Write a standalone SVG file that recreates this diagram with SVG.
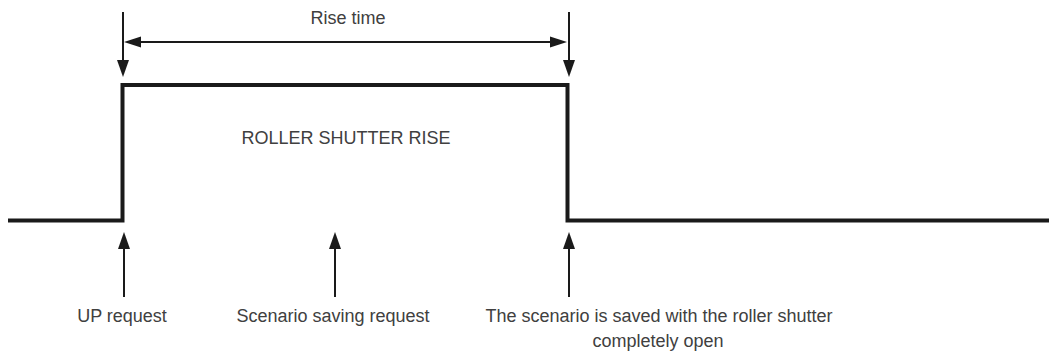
<svg xmlns="http://www.w3.org/2000/svg" width="1049" height="356" viewBox="0 0 1049 356">
<style>
text { font-family: "Liberation Sans", Arial, sans-serif; font-size: 18px; fill: #404040; text-anchor: middle; }
.wave { fill: none; stroke: #1a1a1a; stroke-width: 4; stroke-linejoin: miter; }
.arr { fill: none; stroke: #1a1a1a; stroke-width: 2; }
.head { fill: #1a1a1a; }
</style>
<rect width="1049" height="356" fill="#fff"/>
<g id="signal">
<path class="wave" d="M8,220.5 H122.5 V85 H567.5 V220.5 H1049"/>
<text x="346" y="144">ROLLER SHUTTER RISE</text>
</g>
<g id="connectors">
<line class="arr" x1="123" y1="12" x2="123" y2="62"/>
<polygon class="head" points="117,60 129,60 123,77"/>
<line class="arr" x1="569" y1="12" x2="569" y2="62"/>
<polygon class="head" points="563,60 575,60 569,77"/>
<line class="arr" x1="138" y1="42" x2="553" y2="42"/>
<polygon class="head" points="124,42 141,36.5 141,47.5"/>
<polygon class="head" points="567,42 550,36.5 550,47.5"/>
<line class="arr" x1="124" y1="246" x2="124" y2="297"/>
<polygon class="head" points="124,232 118,249 130,249"/>
<line class="arr" x1="335" y1="246" x2="335" y2="297"/>
<polygon class="head" points="335,232 329,249 341,249"/>
<line class="arr" x1="569" y1="246" x2="569" y2="297"/>
<polygon class="head" points="569,232 563,249 575,249"/>
</g>
<g id="labels">
<text x="348" y="24">Rise time</text>
<text x="122" y="322">UP request</text>
<text x="333" y="322">Scenario saving request</text>
<text x="659" y="322">The scenario is saved with the roller shutter</text>
<text x="658" y="347">completely open</text>
</g>
</svg>
